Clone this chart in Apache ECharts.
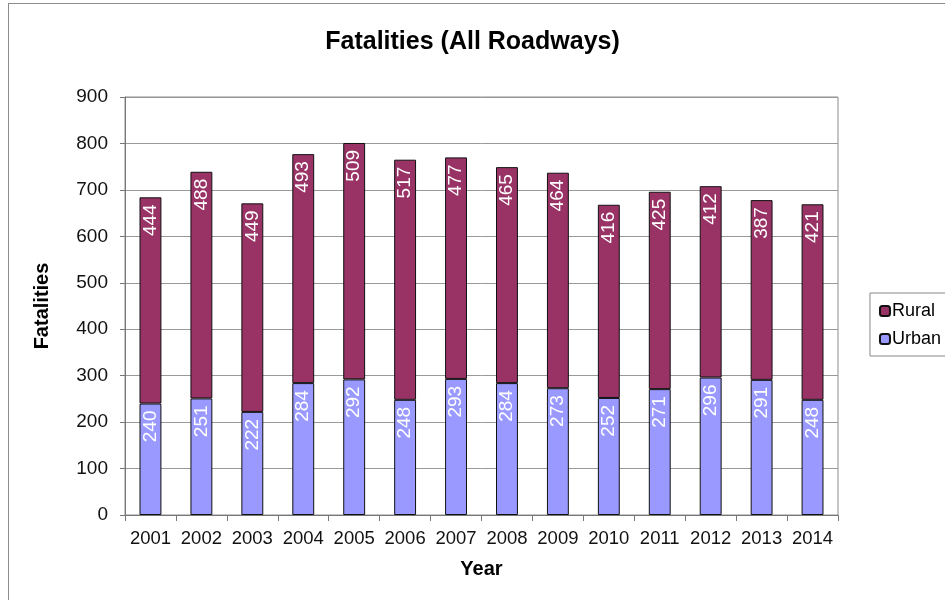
<!DOCTYPE html>
<html>
<head>
<meta charset="utf-8">
<script src="https://cdn.jsdelivr.net/npm/echarts@6/dist/echarts.min.js"></script>
<style>
  html, body { margin: 0; padding: 0; overflow: hidden; background: #fff; }
  #wrap { position: relative; width: 945px; height: 600px; overflow: hidden; }
  #frame { position: absolute; left: 8px; top: 3px; width: 1000px; height: 700px; border: 1px solid #8c8c8c; }
  #chart { position: absolute; left: 0; top: 0; width: 945px; height: 600px; }
</style>
</head>
<body>
<div id="wrap">
  <div id="frame"></div>
  <div id="chart"></div>
</div>
<script>
const years = ['2001', '2002', '2003', '2004', '2005', '2006', '2007', '2008', '2009', '2010', '2011', '2012', '2013', '2014']
const urban = [240, 251, 222, 284, 292, 248, 293, 284, 273, 252, 271, 296, 291, 248]
const rural = [444, 488, 449, 493, 509, 517, 477, 465, 464, 416, 425, 412, 387, 421]

const font = 'Arial, "Liberation Sans", sans-serif'

const barLabel = {
  show: true,
  position: 'insideTop',
  rotate: 90,
  align: 'right',
  verticalAlign: 'middle',
  distance: 7,
  color: '#fff',
  fontFamily: font,
  fontSize: 19
}

const chart = echarts.init(document.getElementById('chart'))
chart.setOption({
  animation: false,
  textStyle: { fontFamily: font },
  title: {
    text: 'Fatalities (All Roadways)',
    left: 'center',
    top: 25,
    textStyle: { fontSize: 25, fontWeight: 'bold', color: '#000', fontFamily: font }
  },
  legend: {
    orient: 'vertical',
    right: -4,
    top: 293,
    data: ['Rural', 'Urban'],
    itemWidth: 10,
    itemHeight: 10,
    itemGap: 10,
    padding: [9, 8, 8, 9],
    borderColor: '#888',
    borderWidth: 1,
    textStyle: { fontSize: 18, color: '#000', fontFamily: font, padding: [0, 0, 0, -3] }
  },
  grid: {
    left: 125,
    right: 107,
    top: 97,
    bottom: 85,
    show: true,
    borderColor: '#8c8c8c',
    borderWidth: 1
  },
  xAxis: {
    type: 'category',
    data: years,
    name: 'Year',
    nameLocation: 'middle',
    nameGap: 44,
    nameTextStyle: { fontSize: 20, fontWeight: 'bold', color: '#000' },
    axisLine: { lineStyle: { color: '#777' } },
    axisTick: { show: true, length: 6, lineStyle: { color: '#777' } },
    axisLabel: { fontSize: 18.5, color: '#111', margin: 14, interval: 0 }
  },
  yAxis: {
    type: 'value',
    min: 0,
    max: 900,
    interval: 100,
    name: 'Fatalities',
    nameLocation: 'middle',
    nameGap: 73,
    nameTextStyle: { fontSize: 20, fontWeight: 'bold', color: '#000' },
    axisLine: { show: true, lineStyle: { color: '#777' } },
    axisTick: { show: true, length: 5, lineStyle: { color: '#777' } },
    axisLabel: { fontSize: 19, color: '#111', margin: 17 },
    splitLine: { lineStyle: { color: '#999' } }
  },
  series: [
    {
      name: 'Urban',
      type: 'bar',
      stack: 'total',
      barWidth: '43%',
      data: urban,
      itemStyle: { color: '#9999ff', borderColor: '#111', borderWidth: 1 },
      label: barLabel
    },
    {
      name: 'Rural',
      type: 'bar',
      stack: 'total',
      barWidth: '43%',
      data: rural,
      itemStyle: { color: '#993366', borderColor: '#111', borderWidth: 1 },
      label: barLabel
    }
  ]
})
</script>
</body>
</html>
